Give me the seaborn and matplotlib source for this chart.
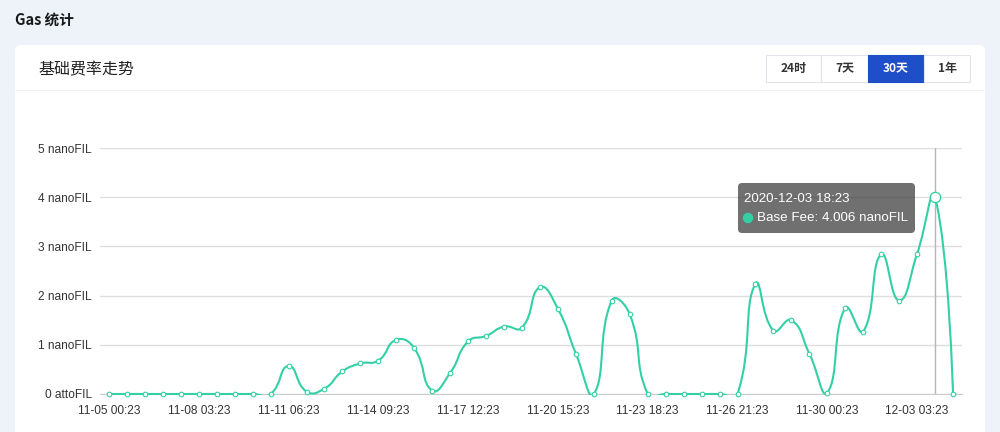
import numpy as np
import matplotlib
matplotlib.use('Agg')
import matplotlib.pyplot as plt
import seaborn as sns
from matplotlib.patches import FancyBboxPatch, Rectangle, PathPatch
from matplotlib.path import Path
from matplotlib.transforms import IdentityTransform

# Base fee (nanoFIL), one point every 15 hours starting 2020-11-05 00:23
base_fee = [0, 0, 0, 0, 0, 0, 0, 0, 0, 0,
            0.57, 0.05, 0.11, 0.46, 0.62, 0.68, 1.10, 0.93, 0.07, 0.43,
            1.07, 1.18, 1.37, 1.35, 2.17, 1.73, 0.82, 0.0, 1.90, 1.62,
            0, 0, 0, 0, 0, 0, 2.24, 1.29, 1.50, 0.82,
            0.03, 1.75, 1.27, 2.84, 1.90, 2.85, 4.006, 0]
x_labels = ['11-05 00:23', '11-08 03:23', '11-11 06:23', '11-14 09:23', '11-17 12:23',
            '11-20 15:23', '11-23 18:23', '11-26 21:23', '11-30 00:23', '12-03 03:23']
y_labels = ['0 attoFIL', '1 nanoFIL', '2 nanoFIL', '3 nanoFIL', '4 nanoFIL', '5 nanoFIL']
buttons = ['24时', '7天', '30天', '1年']
selected = '30天'
hover_idx = 46
hover_time = '2020-12-03 18:23'

TEAL = '#33d0a6'
W, H = 1000, 432

sns.set_style('white')
plt.rcParams['font.family'] = ['Liberation Sans', 'Noto Sans CJK SC', 'DejaVu Sans']
CJK = ['Noto Sans CJK SC', 'DejaVu Sans']

fig = plt.figure(figsize=(W / 100, H / 100), dpi=100)
fig.set_facecolor('#eef3fa')
pix = IdentityTransform()

# card
fig.add_artist(FancyBboxPatch((15, -10), 970, H - 45 + 10,
                              boxstyle='round,pad=0,rounding_size=6',
                              transform=pix, facecolor='white', edgecolor='none', zorder=-2))
fig.add_artist(Rectangle((15, H - 91), 970, 1, transform=pix,
                         facecolor='#f0f1f3', edgecolor='none', zorder=-1))
fig.text(15, H - 20, 'Gas 统计', transform=pix, family=CJK, fontsize=10.5,
         weight='bold', color='#1a1a1a', va='center')
fig.text(38, H - 70, '基础费率走势', transform=pix, family=CJK, fontsize=11.5,
         color='#222222', va='center')

# range buttons
edges = [766, 821, 868, 924, 970]
for i, b in enumerate(buttons):
    x0, x1 = edges[i], edges[i + 1]
    on = b == selected
    fig.add_artist(Rectangle((x0, H - 82), x1 - x0, 27, transform=pix,
                             facecolor='#1f4fc8' if on else 'white',
                             edgecolor='#1f4fc8' if on else '#e1e4ea', lw=0.8))
    fig.text((x0 + x1) / 2, H - 68.5, b, transform=pix, family=CJK, fontsize=8.6,
             weight='bold', color='white' if on else '#333333', ha='center', va='center')

# chart axes
ax = fig.add_axes([100 / W, 1 - 394 / H, 862 / W, 246 / H])
ax.set_zorder(2)
idx = np.arange(len(base_fee))
ax.set_xlim(-0.5, len(base_fee) - 0.5)
ax.set_ylim(0, 5)
ax.set_facecolor('none')

# smooth line (echarts-style bezier through the data points)
pts = ax.transData.transform(np.column_stack([idx, base_fee]))
cp_in, cp_out = pts.copy(), pts.copy()
for i in range(1, len(pts) - 1):
    v = (pts[i + 1] - pts[i - 1]) * 0.5
    d0 = np.hypot(*(pts[i] - pts[i - 1]))
    d1 = np.hypot(*(pts[i + 1] - pts[i]))
    s = d0 + d1
    cp_in[i] = pts[i] - v * d0 / s
    cp_out[i] = pts[i] + v * d1 / s
verts = [pts[0]]
codes = [Path.MOVETO]
for i in range(len(pts) - 1):
    verts += [cp_out[i], cp_in[i + 1], pts[i + 1]]
    codes += [Path.CURVE4] * 3
verts = ax.transData.inverted().transform(np.array(verts))
line = PathPatch(Path(verts, codes), transform=ax.transData, facecolor='none',
                 edgecolor=TEAL, lw=1.5, zorder=3)
ax.add_patch(line)
line.set_clip_path(Rectangle((-0.5, -0.03), len(base_fee), 5.2, transform=ax.transData))

sns.scatterplot(x=idx, y=base_fee, ax=ax, s=11, color='white', edgecolor=TEAL,
                linewidth=0.8, zorder=4, clip_on=False)
ax.axvline(hover_idx, color='#b5b5b5', lw=1, zorder=1)
ax.scatter([hover_idx], [base_fee[hover_idx]], s=55, facecolor='white',
           edgecolor=TEAL, linewidth=0.9, zorder=5, clip_on=False)

# axes styling
ax.set_yticks(range(6))
ax.set_yticklabels(y_labels)
ax.yaxis.grid(True, color='#dedede', lw=1)
ax.tick_params(axis='y', length=0, pad=6, labelsize=8.6, labelcolor='#333333')
ax.set_xticks(np.arange(-0.5, len(base_fee), 5))
ax.set_xticklabels([])
ax.set_xticks(np.arange(0, len(base_fee), 5), minor=True)
ax.set_xticklabels(x_labels, minor=True)
ax.tick_params(axis='x', which='major', length=4, color='#cccccc', width=1)
ax.tick_params(axis='x', which='minor', length=0, pad=8, labelsize=8.6, labelcolor='#333333')
for side in ['top', 'right', 'left']:
    ax.spines[side].set_visible(False)
ax.spines['bottom'].set_color('#cccccc')
ax.set_xlabel('')
ax.set_ylabel('')

# tooltip
fig.add_artist(FancyBboxPatch((738, H - 233), 177, 50, boxstyle='round,pad=0,rounding_size=4',
                              transform=pix, facecolor=(0.2, 0.2, 0.2, 0.7), edgecolor='none',
                              zorder=10))
fig.text(744, H - 199, hover_time, transform=pix, fontsize=9.6, color='white',
         va='center', zorder=11)
fig.add_artist(plt.Circle((748, H - 218), 4.5, transform=pix, color=TEAL, zorder=11))
fig.text(757, H - 218, f'Base Fee: {base_fee[hover_idx]:.3f} nanoFIL', transform=pix,
         fontsize=9.6, color='white', va='center', zorder=11)

fig.savefig('out.png', dpi=100, facecolor=fig.get_facecolor())
